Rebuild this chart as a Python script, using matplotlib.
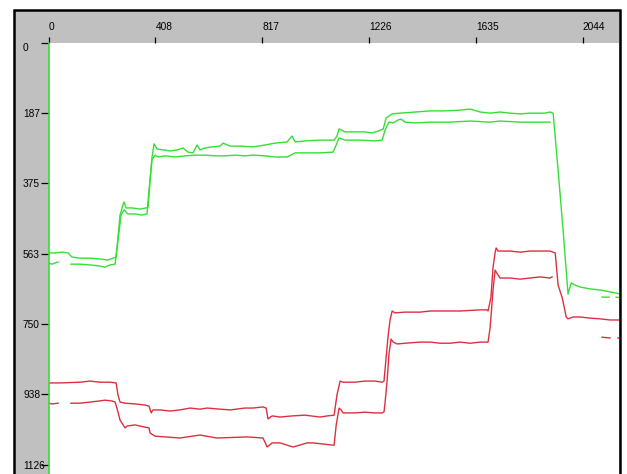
import numpy as np
import matplotlib
matplotlib.use('Agg')
from matplotlib import pyplot as plt
from matplotlib.patches import Rectangle

nan = np.nan

# axis ticks
x_ticks = [0, 408, 817, 1226, 1635, 2044]
y_ticks = [0, 187, 375, 563, 750, 938, 1126]

# green traces
g1_x = [0, 24, 51, 74, 89, 120, 158, 196, 227, 246, 258, 265, 273, 284, 288, 296, 319, 349, 372, 380,
        388, 395, 403, 415, 437, 465, 491, 514, 533, 552, 568, 579, 598, 625, 656, 667, 694, 732, 782,
        828, 866, 912, 931, 943, 981, 1038, 1092, 1103, 1111, 1134, 1172, 1210, 1237, 1260, 1280, 1291,
        1314, 1344, 1402, 1460, 1516, 1574, 1612, 1651, 1689, 1727, 1765, 1804, 1842, 1899, 1918, 1930,
        1949, 1968, 1987, 1999, 2014, 2033, 2071, 2110, 2148, 2190]
g1_y = [561, 561, 559, 561, 572, 575, 575, 577, 580, 575, 572, 521, 460, 433, 425, 441, 441, 444, 441, 439,
        366, 308, 270, 284, 286, 289, 286, 281, 292, 294, 273, 286, 281, 278, 276, 268, 276, 276, 278,
        273, 268, 265, 249, 265, 262, 260, 260, 249, 230, 238, 238, 238, 241, 236, 230, 201,
        190, 188, 185, 182, 182, 180, 177, 185, 188, 185, 188, 190, 188, 188, 185, 188,
        340, 500, 671, 641, 647, 652, 657, 660, 665, 671]

g2_x = [0, 13, 36, 60, 85, 120, 158, 196, 215, 235, 254, 265, 277, 288, 303, 330, 357, 376, 384, 395,
        407, 418, 445, 483, 522, 560, 598, 637, 675, 713, 751, 782, 828, 866, 912, 943, 981, 1038, 1088,
        1100, 1111, 1134, 1191, 1249, 1276, 1287, 1302, 1318, 1337, 1348, 1364, 1402, 1460, 1536, 1612,
        1689, 1727, 1804, 1880, 1918, 2000, 2117, 2144, 2160, 2171, 2190]
g2_y = [588, 591, 585, nan, 591, 591, 593, 596, 599, 593, 591, 527, 460, 446, 457, 457, 460, 457, 393, 313,
        300, 305, 302, 305, 302, 300, 300, 302, 302, 300, 302, 300, 302, 305, 305, 294, 294, 294, 292,
        273, 254, 260, 260, 262, 260, 233, 212, 214, 206, 204, 212, 214, 212, 212, 209,
        212, 209, 212, 212, 212, nan, 679, 679, nan, 679, 681]

# red traces
r1_x = [0, 43, 120, 158, 196, 235, 258, 265, 273, 292, 330, 369, 384, 392, 399, 426, 465, 502, 541, 579,
        606, 656, 694, 751, 782, 820, 832, 839, 855, 885, 931, 981, 1038, 1066, 1092, 1103, 1115, 1126,
        1172, 1210, 1249, 1276, 1283, 1291, 1299, 1306, 1314, 1325, 1364, 1421, 1460, 1498, 1574, 1651,
        1677, 1681, 1692, 1700, 1708, 1712, 1719, 1765, 1804, 1842, 1880, 1918, 1930, 1938, 1949, 1965,
        1980, 1987, 2006, 2033, 2071, 2110, 2148, 2190]
r1_y = [908, 908, 906, 903, 906, 906, 908, 940, 959, 962, 964, 967, 970, 988, 980, 980, 983, 980, 975, 978,
        975, 978, 980, 975, 975, 972, 975, 1004, 996, 999, 996, 994, 999, 996, 994, 940, 903, 906,
        906, 903, 903, 906, 903, 840, 780, 740, 716, 721, 719, 719, 716, 716, 716, 713,
        713, 716, 680, 600, 560, 548, 556, 556, 559, 556, 556, 556, 559, 561, 647, 681,
        732, 737, 732, 732, 735, 737, 740, 740]

r2_x = [0, 13, 36, 60, 85, 120, 158, 196, 215, 242, 254, 261, 273, 292, 300, 330, 369, 384, 388, 407,
        445, 502, 579, 644, 759, 820, 836, 855, 885, 935, 989, 1011, 1088, 1092, 1100, 1111, 1119, 1126,
        1172, 1210, 1249, 1276, 1283, 1287, 1295, 1302, 1310, 1318, 1333, 1364, 1421, 1460, 1498, 1536,
        1574, 1612, 1651, 1681, 1689, 1700, 1708, 1719, 1727, 1765, 1804, 1842, 1880, 1918, 1926, 2000,
        2117, 2148, 2160, 2178, 2190]
r2_y = [962, 964, 962, nan, 962, 962, 959, 956, 954, 956, 959, 975, 1007, 1028, 1023, 1020, 1026, 1028, 1042, 1050,
        1052, 1055, 1047, 1055, 1052, 1055, 1079, 1068, 1068, 1079, 1068, 1068, 1074, 1074, 1020, 975, 980, 988,
        988, 986, 988, 988, 985, 960, 900, 830, 791, 799, 804, 802, 799, 799, 802, 802,
        799, 802, 799, 799, 760, 660, 607, 620, 628, 628, 631, 628, 625, 628, 625, nan,
        786, 788, nan, 788, 790]

green = '#33e033'
red = '#dc3040'
W, H = 627, 474

fig = plt.figure(figsize=(W / 100, H / 100), dpi=100)

# grey panel behind the plot
fig.patches.append(Rectangle((14 / W, -0.05), (620 - 14) / W, 1.05 - 10 / H,
                             transform=fig.transFigure, facecolor='#c0c0c0',
                             edgecolor='none', zorder=-1))
fig.patches.append(Rectangle((14 / W, -0.05), (620 - 14) / W, 1.05 - 10 / H,
                             transform=fig.transFigure, fill=False,
                             edgecolor='black', linewidth=1.8, zorder=5))

ax = fig.add_axes([48.7 / W, 0, (619 - 48.7) / W, (474 - 42.7) / H])
ax.set_facecolor('white')

ax.plot(g1_x, g1_y, color=green, lw=1.0)
ax.plot(g2_x, g2_y, color=green, lw=1.0)
ax.plot(r1_x, r1_y, color=red, lw=1.0)
ax.plot(r2_x, r2_y, color=red, lw=1.0)

ax.set_xlim(0, 2182)
ax.set_ylim(1151, 0)

for s in ['top', 'right', 'bottom']:
    ax.spines[s].set_visible(False)
ax.spines['left'].set_color(green)
ax.spines['left'].set_linewidth(1.2)

ax.xaxis.tick_top()
ax.set_xticks(x_ticks)
ax.set_xticklabels([str(t) for t in x_ticks])
ax.tick_params(axis='x', direction='out', length=4.5, width=0.9, pad=3,
               labelsize=7.3, colors='black')
for lab in ax.get_xticklabels():
    lab.set_horizontalalignment('left')

ax.set_yticks(y_ticks)
ax.set_yticklabels([str(t) for t in y_ticks])
ax.tick_params(axis='y', direction='out', length=6, width=0.9, pad=12.5,
               labelsize=7.3, colors='black')
for lab in ax.get_yticklabels():
    lab.set_horizontalalignment('left')
ax.yaxis.get_major_ticks()[0].label1.set_verticalalignment('top')

for lab in ax.get_xticklabels() + ax.get_yticklabels():
    lab.set_fontfamily('Liberation Sans')

fig.savefig('out.png', dpi=100)
